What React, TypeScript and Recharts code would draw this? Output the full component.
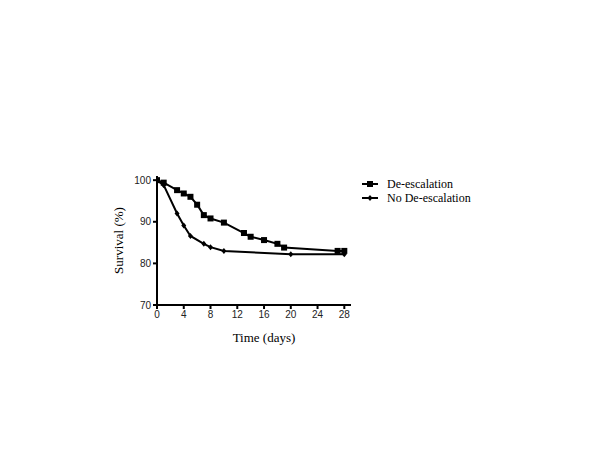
import { Line, LineChart, XAxis, YAxis } from "recharts"

const deDays = [0, 1, 3, 4, 5, 6, 7, 8, 10, 13, 14, 16, 18, 19, 27, 28]
const deSurvival = [100, 99.4, 97.6, 96.8, 96.0, 94.1, 91.6, 90.8, 89.8, 87.3, 86.4, 85.6, 84.7, 83.8, 83.0, 83.0]

const noDays = [0, 1, 3, 4, 5, 7, 8, 10, 20, 28]
const noSurvival = [100, 98.8, 92.0, 89.1, 86.6, 84.7, 83.9, 83.0, 82.2, 82.2]

const xTicks = [0, 4, 8, 12, 16, 20, 24, 28]
const yTicks = [70, 80, 90, 100]

const deData = deDays.map((d, i) => ({ day: d, survival: deSurvival[i] }))
const noData = noDays.map((d, i) => ({ day: d, survival: noSurvival[i] }))

function SquareDot(props: any) {
  const { cx, cy } = props
  if (cx == null || cy == null) return null
  return <rect x={cx - 3} y={cy - 3} width={6} height={6} fill="#000" />
}

function DiamondDot(props: any) {
  const { cx, cy } = props
  if (cx == null || cy == null) return null
  return (
    <path
      d={`M${cx},${cy - 3} L${cx + 2.5},${cy} L${cx},${cy + 3} L${cx - 2.5},${cy} Z`}
      fill="#000"
    />
  )
}

function LegendBox() {
  const rows = [
    { name: "De-escalation", square: true },
    { name: "No De-escalation", square: false },
  ]
  return (
    <div
      style={{
        position: "absolute",
        left: 362,
        top: 177,
        fontFamily: "'Liberation Serif', serif",
        fontSize: 12,
        color: "#000",
      }}
    >
      {rows.map((r) => (
        <div key={r.name} style={{ display: "flex", alignItems: "center", height: 14 }}>
          <svg width={20} height={10} style={{ marginRight: 5 }}>
            <line x1={0} y1={5} x2={16} y2={5} stroke="#000" strokeWidth={2} />
            {r.square ? (
              <rect x={5} y={2} width={6} height={6} fill="#000" />
            ) : (
              <path d="M8,2 L10.5,5 L8,8 L5.5,5 Z" fill="#000" />
            )}
          </svg>
          <span>{r.name}</span>
        </div>
      ))}
    </div>
  )
}

export default function App() {
  return (
    <div style={{ position: "absolute", left: 0, top: 0, width: 600, height: 450, background: "#fff" }}>
      <LineChart
        width={600}
        height={450}
        margin={{ top: 176, right: 249, left: 117, bottom: 115 }}
      >
        <XAxis
          type="number"
          dataKey="day"
          domain={[0, 29]}
          ticks={xTicks}
          allowDataOverflow
          stroke="#000"
          strokeWidth={2}
          height={30}
          tickSize={4}
          tick={{ fontSize: 10, fill: "#222", fontFamily: "'Liberation Sans', Arial, sans-serif" }}
          label={{
            value: "Time (days)",
            position: "insideBottom",
            offset: -7,
            dx: 10,
            style: { fontSize: 13, fill: "#000", fontFamily: "'Liberation Serif', serif" },
          }}
        />
        <YAxis
          type="number"
          dataKey="survival"
          domain={[70, 101]}
          ticks={yTicks}
          allowDataOverflow
          stroke="#000"
          strokeWidth={2}
          width={40}
          tickSize={4}
          tick={{ fontSize: 10, fill: "#222", fontFamily: "'Liberation Sans', Arial, sans-serif" }}
          label={{
            value: "Survival (%)",
            angle: -90,
            position: "insideLeft",
            offset: 1,
            style: { fontSize: 13, fill: "#000", fontFamily: "'Liberation Serif', serif", textAnchor: "middle" },
          }}
        />
        <Line
          data={deData}
          dataKey="survival"
          name="De-escalation"
          stroke="#000"
          strokeWidth={2}
          dot={<SquareDot />}
          activeDot={false}
          isAnimationActive={false}
        />
        <Line
          data={noData}
          dataKey="survival"
          name="No De-escalation"
          stroke="#000"
          strokeWidth={2}
          dot={<DiamondDot />}
          activeDot={false}
          isAnimationActive={false}
        />
      </LineChart>
      <LegendBox />
    </div>
  )
}
